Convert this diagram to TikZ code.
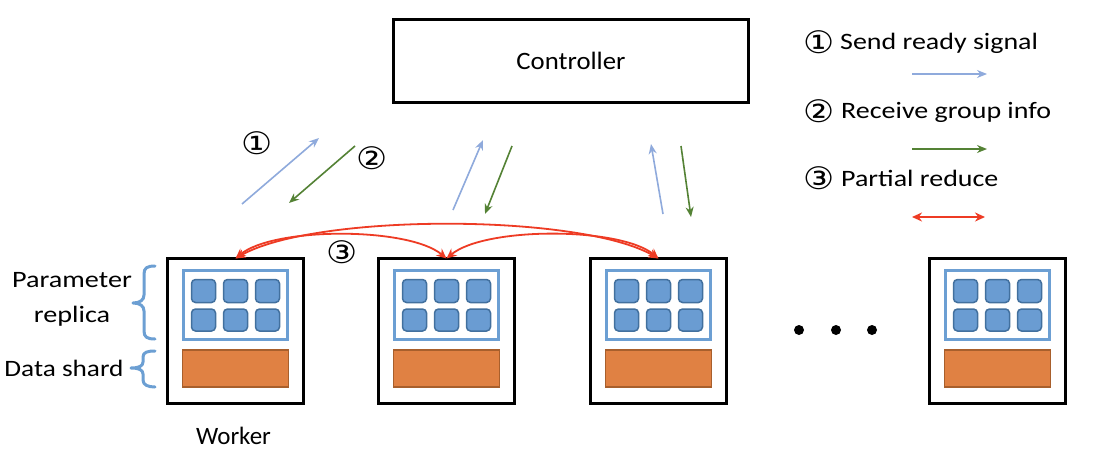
\documentclass[tikz,border=0pt]{standalone}
\usepackage{fontspec}
\usepackage{graphicx}
\setmainfont{Carlito}
\newfontfamily\circfont{DejaVu Sans}
\usetikzlibrary{arrows.meta}
\definecolor{sqfill}{HTML}{6A9CD2}
\definecolor{sqdraw}{HTML}{42709E}
\definecolor{frameblue}{HTML}{6C9FD3}
\definecolor{orfill}{HTML}{E08143}
\definecolor{ordraw}{HTML}{A85F2C}
\definecolor{sendblue}{HTML}{8FAADC}
\definecolor{recvgreen}{HTML}{548235}
\definecolor{redarr}{HTML}{EE3B24}
\newcommand{\hs}[2]{\scalebox{#1}[1]{#2}}
\newcommand{\bigtxt}{\fontsize{25}{30}\selectfont}
\newcommand{\legtxt}{\fontsize{23.5}{28}\selectfont}
\newcommand{\circtxt}{\fontsize{31}{36}\selectfont\circfont}
\tikzset{
  workerbox/.style={draw, line width=3.5pt, minimum width=136pt, minimum height=145pt, outer sep=0pt, inner sep=0pt},
  ctrlbox/.style={draw, line width=3pt, minimum width=355pt, minimum height=83pt, inner sep=0pt},
  paramframe/.style={draw=frameblue, line width=3pt, fill=white},
  sq/.style={draw=sqdraw, line width=1.5pt, fill=sqfill, rounded corners=4pt},
  shard/.style={draw=ordraw, line width=1.2pt, fill=orfill},
  sendarr/.style={draw=sendblue, line width=1.6pt, -{Stealth[length=10pt,width=8pt]}},
  recvarr/.style={draw=recvgreen, line width=1.6pt, -{Stealth[length=10pt,width=8pt]}},
  redbi/.style={draw=redarr, line width=1.8pt, {Stealth[length=10pt,width=9pt]}-{Stealth[length=10pt,width=9pt]}},
  bluebrace/.style={draw=frameblue, line width=3pt, line cap=round, line join=round},
  lbl/.style={inner sep=0pt, anchor=base},
  circnum/.style={inner sep=0pt, font=\circtxt},
  legtext/.style={inner sep=0pt, anchor=base west, font=\legtxt},
}
\begin{document}
\begin{tikzpicture}[x=1pt,y=-1pt]
\useasboundingbox[fill=white] (0,0) rectangle (1094,458);

% controller
\node[ctrlbox, font=\bigtxt] (ctrl) at (571,61) {\hs{1.07}{Controller}};

% workers
\foreach \i/\cx in {1/235.5,2/446.5,3/658.5,4/997.5}{
  \node[workerbox] (w\i) at (\cx,331) {};
  \begin{scope}[shift={(w\i.center)}]
    \draw[paramframe] (-52,-60.5) rectangle (52,8.5);
    \foreach \sx in {-32,0,32}{
      \draw[sq] (\sx-12,-51.5) rectangle (\sx+12,-28.5);
      \draw[sq] (\sx-12,-22) rectangle (\sx+12,0);
    }
    \draw[shard] (-53,19) rectangle (53,56);
  \end{scope}
}

% dots
\foreach \dx in {799,836,872}{\fill (\dx,330) circle[radius=5pt];}

% labels left
\node[lbl, font=\legtxt] (lparam) at (72,287) {\hs{1.2}{Parameter}};
\node[lbl, font=\legtxt] (lrep) at (72,322) {\hs{1.2}{replica}};
\node[lbl, font=\legtxt] (ldata) at (64,376) {\hs{1.16}{Data shard}};
\node[lbl, font=\bigtxt] (lworker) at (233.5,444) {Worker};

% braces
\draw[bluebrace] (155,266) .. controls (147,266) and (144,268) .. (144,274)
  -- (144,295) .. controls (144,300) and (140,303) .. (133,303)
  .. controls (140,303) and (144,306) .. (144,311)
  -- (144,331) .. controls (144,337) and (147,339) .. (155,339);
\draw[bluebrace] (155,351) .. controls (148,351) and (143,352) .. (143,357)
  -- (143,362) .. controls (143,366) and (139,368) .. (131,368)
  .. controls (139,368) and (143,370) .. (143,374)
  -- (143,380) .. controls (143,385) and (148,387) .. (155,387);

% controller <-> worker arrows
\coordinate (s1a) at (242,204); \coordinate (s1b) at (319,138);
\coordinate (r1a) at (355,146); \coordinate (r1b) at (289,203);
\coordinate (s2a) at (453,210); \coordinate (s2b) at (483,140);
\coordinate (r2a) at (512,146); \coordinate (r2b) at (485,214);
\coordinate (s3a) at (663,214); \coordinate (s3b) at (651,144);
\coordinate (r3a) at (681,146); \coordinate (r3b) at (691,217);
\draw[sendarr] (s1a) -- (s1b);
\draw[recvarr] (r1a) -- (r1b);
\draw[sendarr] (s2a) -- (s2b);
\draw[recvarr] (r2a) -- (r2b);
\draw[sendarr] (s3a) -- (s3b);
\draw[recvarr] (r3a) -- (r3b);

\node[circnum] (c1) at (257,143) {\hs{1.12}{①}};
\node[circnum] (c2) at (372,158) {\hs{1.12}{②}};
\node[circnum] (c3) at (342,252) {\hs{1.12}{③}};

% partial reduce curves
\draw[redbi] (w1.north) to[out=40,in=140,looseness=0.6] (w2.north);
\draw[redbi] (w2.north) to[out=40,in=140,looseness=0.6] (w3.north);
\draw[redbi] (w1.north) to[out=30,in=150,looseness=0.55] (w3.north);

% legend
\node[circnum] (lc1) at (819.5,42) {\hs{1.12}{①}};
\node[legtext] (lt1) at (840,49) {\hs{1.19}{Send ready signal}};
\coordinate (la1) at (912,74); \coordinate (lb1) at (987,74);
\draw[sendarr] (la1) -- (lb1);
\node[circnum] (lc2) at (819.5,111) {\hs{1.12}{②}};
\node[legtext] (lt2) at (841,118) {\hs{1.19}{Receive group info}};
\coordinate (la2) at (912,149); \coordinate (lb2) at (987,149);
\draw[recvarr] (la2) -- (lb2);
\node[circnum] (lc3) at (819.5,178) {\hs{1.12}{③}};
\node[legtext] (lt3) at (841,186) {\hs{1.19}{Partial reduce}};
\coordinate (la3) at (912,217); \coordinate (lb3) at (985,217);
\draw[redbi] (la3) -- (lb3);
\end{tikzpicture}
\end{document}
